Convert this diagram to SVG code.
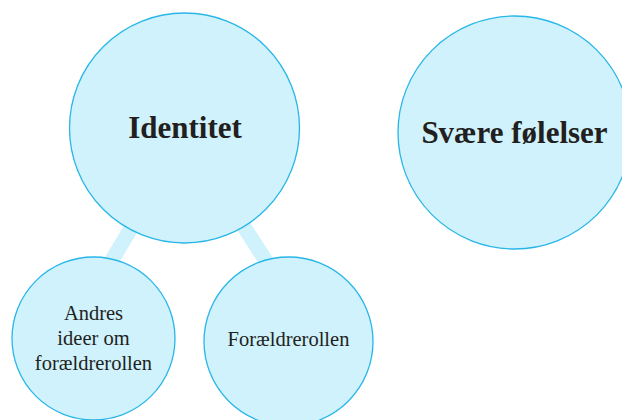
<svg xmlns="http://www.w3.org/2000/svg" width="622" height="420" viewBox="0 0 622 420">
<style>
.node{fill:#cff2fd;stroke:#29b6e8;stroke-width:1.3}
.conn{stroke:#cff2fd;stroke-width:15;fill:none}
.big{font-family:"Liberation Serif",serif;font-weight:bold;font-size:31px;fill:#231f20;text-anchor:middle}
.small{font-family:"Liberation Serif",serif;font-size:20.5px;fill:#231f20;text-anchor:middle}
</style>
<rect width="622" height="420" fill="#ffffff"/>
<g id="connectors">
<line class="conn" x1="148" y1="200" x2="100" y2="280"/>
<line class="conn" x1="230" y1="205" x2="280" y2="283"/>
</g>
<g id="identitet">
<circle class="node" cx="184.5" cy="128" r="115"/>
<text class="big" x="185" y="138">Identitet</text>
</g>
<g id="svaere-folelser">
<circle class="node" cx="514.5" cy="132.5" r="116.5"/>
<text class="big" x="514.5" y="143">Svære følelser</text>
</g>
<g id="andres-ideer">
<circle class="node" cx="93.5" cy="338.5" r="81.5"/>
<text class="small" x="93.5" y="320">Andres</text>
<text class="small" x="93.5" y="345">ideer om</text>
<text class="small" x="93.5" y="369.5">forældrerollen</text>
</g>
<g id="foraeldrerollen">
<circle class="node" cx="288.5" cy="341.5" r="84.5"/>
<text class="small" x="288.5" y="346">Forældrerollen</text>
</g>
</svg>
